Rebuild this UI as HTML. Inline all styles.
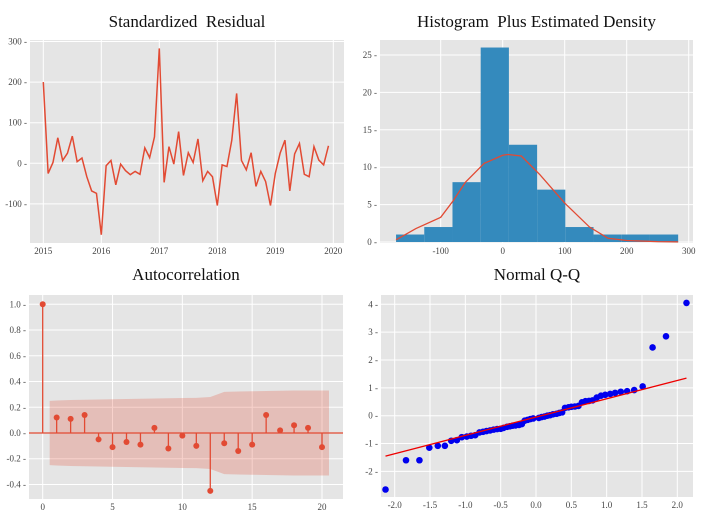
<!DOCTYPE html>
<html><head><meta charset="utf-8"><style>
html,body{margin:0;padding:0;background:#fff;}
svg{display:block;}
svg text{font-family:"Liberation Serif","DejaVu Serif",serif;}
</style></head><body>
<svg id="c" width="708" height="515" font-family="Liberation Serif, serif"></svg>
<script>
// ---- data ----
const residYears=[2015,2016,2017,2018,2019,2020];
const residValues=[200,-25,2,63,7,25,67,4,13,-33,-68,-74,-176,-6,7,-53,-2,-18,-28,-20,-27,38,14,65,283,-47,41,-2,78,-30,26,2,60,-43,-20,-33,-104,-4,-8,57,172,7,-16,26,-57,-20,-45,-104,-25,25,57,-68,23,49,-27,-33,41,8,-4,43];
const residTicks=[-100,0,100,200,300];
const histEdges=[-172,-126.5,-81,-35.5,10,55.5,101,146.5,192,237.5,283];
const histCounts=[1,2,8,26,13,7,2,1,1,1];
const densX=[-172,-140,-100,-80,-60,-30,0,8,30,60,100,140,170,200,250,283];
const densY=[0.3,1.8,3.3,5.5,8,10.5,11.6,11.7,11.5,9,5.2,2,0.5,0.2,0.05,0.02];
const histXTicks=[-100,0,100,200,300];
const histYTicks=[0,5,10,15,20,25];
const acfValues=[1,0.12,0.11,0.14,-0.05,-0.11,-0.07,-0.09,0.04,-0.12,-0.02,-0.10,-0.45,-0.08,-0.14,-0.09,0.14,0.02,0.06,0.04,-0.11];
const acfConf=[0.25,0.253,0.256,0.258,0.26,0.262,0.264,0.266,0.268,0.27,0.272,0.273,0.28,0.32,0.322,0.324,0.326,0.328,0.33,0.33,0.33];
const acfXTicks=[0,5,10,15,20];
const acfYTicks=[-0.4,-0.2,0.0,0.2,0.4,0.6,0.8,1.0];
const qqTheo=[-2.13,-1.84,-1.65,-1.51,-1.39,-1.29,-1.20,-1.12,-1.05,-0.98,-0.92,-0.86,-0.80,-0.75,-0.70,-0.65,-0.60,-0.55,-0.50,-0.46,-0.41,-0.37,-0.33,-0.29,-0.24,-0.20,-0.16,-0.12,-0.08,-0.04,0.04,0.08,0.12,0.16,0.20,0.24,0.29,0.33,0.37,0.41,0.46,0.50,0.55,0.60,0.65,0.70,0.75,0.80,0.86,0.92,0.98,1.05,1.12,1.20,1.29,1.39,1.51,1.65,1.84,2.13];
const qqSample=[-2.65,-1.6,-1.6,-1.15,-1.08,-1.08,-0.9,-0.88,-0.77,-0.75,-0.72,-0.7,-0.6,-0.58,-0.55,-0.53,-0.5,-0.48,-0.47,-0.44,-0.4,-0.38,-0.36,-0.35,-0.33,-0.3,-0.18,-0.15,-0.12,-0.1,-0.08,-0.05,-0.03,0,0.02,0.05,0.07,0.1,0.12,0.28,0.3,0.32,0.33,0.35,0.48,0.52,0.53,0.55,0.65,0.72,0.75,0.78,0.82,0.86,0.88,0.92,1.05,2.45,2.85,4.05];
const qqLineX=[-2.13,2.13];
const qqLineY=[-1.45,1.35];
const qqXTicks=[-2.0,-1.5,-1.0,-0.5,0.0,0.5,1.0,1.5,2.0];
const qqYTicks=[-2,-1,0,1,2,3,4];

const NS="http://www.w3.org/2000/svg";
const svg=document.getElementById('c');
function el(tag,attrs,parent){const e=document.createElementNS(NS,tag);for(const k in attrs)e.setAttribute(k,attrs[k]);(parent||svg).appendChild(e);return e;}
function lin(d0,d1,r0,r1){return v=>r0+(v-d0)*(r1-r0)/(d1-d0);}
const RED='#e24a33';
const SERIF='Liberation Serif, serif';

function panel(name,x0,y0,x1,y1,title,ty){
  const g=el('g',{});
  
  
  const r=el('rect',{x:x0,y:y0,width:x1-x0,height:y1-y0,fill:'#e5e5e5'},g);
  
  
  const t=el('text',{x:(x0+x1)/2,y:ty,'text-anchor':'middle','font-size':'17','font-family':SERIF,fill:'#111','xml:space':'preserve'},g);
  t.style.whiteSpace='pre';
  t.textContent=title;
  
  
  return g;
}
function axes(g,x0,y0,x1,y1,xs,ys,xt,yt,fmtX,fmtY){
  xt.forEach(v=>{const X=xs(v);
    el('line',{x1:X,x2:X,y1:y0,y2:y1,stroke:'#fff','stroke-width':1},g);
    const t=el('text',{x:X,y:y1+11,'text-anchor':'middle','font-size':'9','font-family':SERIF,fill:'#444'},g);
    t.textContent=fmtX(v);
    
    
  });
  yt.forEach(v=>{const Y=ys(v);
    el('line',{x1:x0,x2:x1,y1:Y,y2:Y,stroke:'#fff','stroke-width':1},g);
    const t=el('text',{x:x0-3,y:Y+3,'text-anchor':'end','font-size':'9','font-family':SERIF,fill:'#444'},g);
    t.textContent=fmtY(v)+' -';
    
    
  });
}

// Panel 1: residual
(function(){
  const x0=30,x1=344,y0=40,y1=243;
  const g=panel('residual-panel',x0,y0,x1,y1,'Standardized  Residual',27);
  const xs=lin(2015,2020,43.3,333.3), ys=lin(0,100,163.3,122.7);
  axes(g,x0,y0,x1,y1,xs,ys,residYears,residTicks,v=>v,v=>v);
  const pts=residValues.map((v,i)=>xs(2015+i/12)+','+ys(v)).join(' ');
  const p=el('polyline',{points:pts,fill:'none',stroke:RED,'stroke-width':1.5},g);
  
  
})();

// Panel 2: histogram
(function(){
  const x0=380,x1=693,y0=40,y1=243;
  const g=panel('histogram-panel',x0,y0,x1,y1,'Histogram  Plus Estimated Density',27);
  const xs=lin(0,100,502.7,564.7), ys=lin(0,25,242,55);
  axes(g,x0,y0,x1,y1,xs,ys,histXTicks,histYTicks,v=>v,v=>v);
  histCounts.forEach((c,i)=>{
    const a=xs(histEdges[i]),b=xs(histEdges[i+1]);
    const r=el('rect',{x:a,y:ys(c),width:b-a,height:ys(0)-ys(c),fill:'#348abd'},g);
    
    
  });
  const p=el('polyline',{points:densX.map((v,i)=>xs(v)+','+ys(densY[i])).join(' '),fill:'none',stroke:RED,'stroke-width':1.3},g);
  
  
})();

// Panel 3: ACF
(function(){
  const x0=29,x1=343,y0=295,y1=499;
  const g=panel('acf-panel',x0,y0,x1,y1,'Autocorrelation',280);
  const xs=lin(0,20,42.7,322), ys=lin(0,1,433,304.3);
  axes(g,x0,y0,x1,y1,xs,ys,acfXTicks,acfYTicks,v=>v,v=>v.toFixed(1));
  let up=[],dn=[];
  acfConf.forEach((c,i)=>{const lx=i===0?0.5:(i===acfConf.length-1?i+0.5:i);up.push(xs(lx)+','+ys(c));dn.unshift(xs(lx)+','+ys(-c));});
  const band=el('polygon',{points:up.concat(dn).join(' '),fill:RED,'fill-opacity':0.25},g);
  
  
  el('line',{x1:x0,x2:x1,y1:ys(0),y2:ys(0),stroke:RED,'stroke-width':1.3},g);
  acfValues.forEach((v,i)=>{
    el('line',{x1:xs(i),x2:xs(i),y1:ys(0),y2:ys(v),stroke:RED,'stroke-width':1.3},g);
    const c=el('circle',{cx:xs(i),cy:ys(v),r:3,fill:RED},g);
    
    
  });
})();

// Panel 4: QQ
(function(){
  const x0=381,x1=693,y0=295,y1=497;
  const g=panel('qq-panel',x0,y0,x1,y1,'Normal Q-Q',280);
  const xs=lin(0,2,536,677.3), ys=lin(0,4,415.7,304.3);
  axes(g,x0,y0,x1,y1,xs,ys,qqXTicks,qqYTicks,v=>v.toFixed(1),v=>v);
  qqTheo.forEach((t,i)=>{
    const c=el('circle',{cx:xs(t),cy:ys(qqSample[i]),r:3.3,fill:'#0000ee'},g);
    
    
  });
  const l=el('line',{x1:xs(qqLineX[0]),y1:ys(qqLineY[0]),x2:xs(qqLineX[1]),y2:ys(qqLineY[1]),stroke:'#e00','stroke-width':1.3},g);
  
  
})();
</script>
</body></html>
